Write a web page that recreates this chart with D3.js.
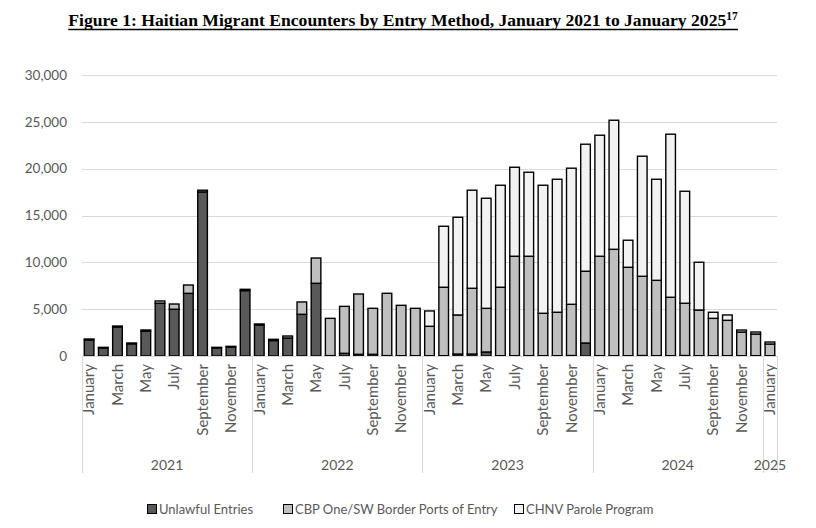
<!DOCTYPE html>
<html>
<head>
<meta charset="utf-8">
<script src="https://cdn.jsdelivr.net/npm/d3@7"></script>
<style>
  body { margin: 0; background: #fff; }
  svg { display: block; }
  .axis text { font-family: Lato, "Open Sans", sans-serif; fill: #595959; }
</style>
</head>
<body>
<svg id="chart" width="816" height="528"></svg>
<script>
// Monate Jan 2021 - Jan 2025
const years = [2021, 2022, 2023, 2024, 2025];
const monthNames = ['January', 'February', 'March', 'April', 'May', 'June',
    'July', 'August', 'September', 'October', 'November', 'December'];

const unlawful = [
    1720, 860, 3100, 1300, 2650, 5630, 4990, 6690, 17520, 860, 950, 6980,
    3300, 1650, 1920, 4450, 7760, 40, 285, 180, 180, 40, 30, 30,
    30, 30, 210, 210, 430, 30, 30, 30, 30, 30, 50, 1390,
    30, 30, 30, 50, 30, 30, 50, 30, 30, 30, 30, 30,
    30
];
const cbpOne = [
    95, 65, 100, 90, 127, 245, 560, 890, 180, 65, 80, 140,
    120, 130, 215, 1320, 2700, 3980, 5015, 6440, 4910, 6655, 5380, 5060,
    3140, 7310, 4170, 7020, 4660, 7310, 10620, 10620, 4530, 4640, 5470, 7660,
    10620, 11360, 9440, 8460, 8050, 6240, 5580, 4880, 3990, 3780, 2530, 2320,
    1250
];
const chnv = [
    0, 0, 0, 0, 0, 0, 0, 0, 0, 0, 0, 0,
    0, 0, 0, 0, 0, 0, 0, 0, 0, 0, 0, 0,
    1640, 6510, 10430, 10470, 11750, 10890, 9500, 8970, 13670, 14200, 14530, 13560,
    12920, 13780, 2890, 12820, 10790, 17410, 11960, 5100, 650, 570, 214, 213,
    213
];
const yTicks = [0, 5000, 10000, 15000, 20000, 25000, 30000];

const seriesNames = ['Unlawful Entries', 'CBP One/SW Border Ports of Entry', 'CHNV Parole Program'];
const seriesColors = ['#595959', '#bfbfbf', '#f2f2f2'];
const keys = ['unlawful', 'cbp', 'chnv'];

// Tabelle fuer d3.stack
const rows = unlawful.map((u, i) => ({
    key: (2021 + Math.floor(i / 12)) + '-' + (i % 12),
    month: i % 12,
    year: 2021 + Math.floor(i / 12),
    unlawful: u,
    cbp: cbpOne[i],
    chnv: chnv[i]
}));

const svg = d3.select('#chart');
const margin = { top: 75, right: 39, bottom: 172, left: 82 };
const width = 816 - margin.left - margin.right;
const height = 528 - margin.top - margin.bottom;

// Titel
const title = svg.append('text')
    .attr('x', 403)
    .attr('y', 26)
    .attr('text-anchor', 'middle')
    .style('font-family', '"Liberation Serif", "Times New Roman", serif')
    .style('font-weight', 'bold')
    .style('font-size', '17.6px')
    .style('fill', '#000');
title.append('tspan')
    .text('Figure 1: Haitian Migrant Encounters by Entry Method, January 2021 to January 2025');
title.append('tspan')
    .attr('dy', -6)
    .style('font-size', '11.5px')
    .text('17');
const tb = title.node().getBBox();
svg.append('line')
    .attr('x1', tb.x).attr('x2', tb.x + tb.width)
    .attr('y1', 29.5).attr('y2', 29.5)
    .style('stroke', '#000')
    .style('stroke-width', 1.4);

const g = svg.append('g')
    .attr('transform', `translate(${margin.left},${margin.top})`);

// Skalen
const x = d3.scaleBand()
    .domain(rows.map(d => d.key))
    .range([0, width])
    .paddingInner(0.32)
    .paddingOuter(0.16);

const y = d3.scaleLinear()
    .domain([0, 30000])
    .range([height, 0]);

// Gitterlinien
g.append('g')
    .selectAll('line')
    .data(yTicks)
    .enter()
    .append('line')
    .attr('x1', 0)
    .attr('x2', width)
    .attr('y1', d => Math.round(y(d)) + 0.5)
    .attr('y2', d => Math.round(y(d)) + 0.5)
    .style('stroke', '#d9d9d9')
    .style('stroke-width', 1);

// Y-Achse
const yAxis = g.append('g')
    .attr('class', 'axis y-axis')
    .call(d3.axisLeft(y).tickValues(yTicks).tickSize(0).tickPadding(15)
        .tickFormat(d3.format(',')));
yAxis.select('.domain').remove();
yAxis.selectAll('text').style('font-size', '13.5px');

// Gestapelte Balken
const stacked = d3.stack().keys(keys)(rows);

g.selectAll('.layer')
    .data(stacked)
    .enter()
    .append('g')
    .attr('class', 'layer')
    .attr('fill', (d, i) => seriesColors[i])
    .selectAll('rect')
    .data(d => d.filter(s => s[1] - s[0] > 0))
    .enter()
    .append('rect')
    .attr('x', d => x(d.data.key))
    .attr('y', d => y(d[1]))
    .attr('width', x.bandwidth())
    .attr('height', d => y(d[0]) - y(d[1]))
    .style('stroke', '#000')
    .style('stroke-width', 1.4);

// X-Achse: Monate
const xAxis = g.append('g')
    .attr('class', 'axis x-axis')
    .attr('transform', `translate(0,${height})`)
    .call(d3.axisBottom(x).tickSize(0)
        .tickFormat(k => {
            const r = rows.find(d => d.key === k);
            return r.month % 2 === 0 ? monthNames[r.month] : '';
        }));
xAxis.select('.domain')
    .style('stroke', '#d9d9d9');
xAxis.selectAll('text')
    .attr('transform', 'rotate(-90)')
    .attr('x', -8)
    .attr('y', 0)
    .attr('dy', '0.35em')
    .style('text-anchor', 'end')
    .style('font-size', '15px');

// Jahresgruppen
const step = x.step();
const groupEdges = years.map(yr => rows.findIndex(d => d.year === yr) * step);
groupEdges.push(width);

g.selectAll('.year-sep')
    .data(groupEdges)
    .enter()
    .append('line')
    .attr('class', 'year-sep')
    .attr('x1', d => Math.round(d) + 0.5)
    .attr('x2', d => Math.round(d) + 0.5)
    .attr('y1', height)
    .attr('y2', height + 117)
    .style('stroke', '#d9d9d9')
    .style('stroke-width', 1);

g.selectAll('.year-label')
    .data(years)
    .enter()
    .append('text')
    .attr('class', 'year-label')
    .attr('x', (d, i) => (groupEdges[i] + groupEdges[i + 1]) / 2)
    .attr('y', height + 114)
    .attr('text-anchor', 'middle')
    .style('font-family', 'Lato, "Open Sans", sans-serif')
    .style('font-size', '14px')
    .style('fill', '#595959')
    .text(d => d);

// Legende
const legendX = [147, 283, 514];
const legend = svg.append('g')
    .attr('transform', 'translate(0,504)');

seriesNames.forEach((name, i) => {
    legend.append('rect')
        .attr('x', legendX[i] + 0.5)
        .attr('y', 0.5)
        .attr('width', 9)
        .attr('height', 9)
        .attr('fill', seriesColors[i])
        .style('stroke', '#000')
        .style('stroke-width', 1);
    legend.append('text')
        .attr('x', legendX[i] + 12)
        .attr('y', 10)
        .style('font-family', 'Lato, "Open Sans", sans-serif')
        .style('font-size', '13px')
        .style('fill', '#595959')
        .text(name);
});
</script>
</body>
</html>
